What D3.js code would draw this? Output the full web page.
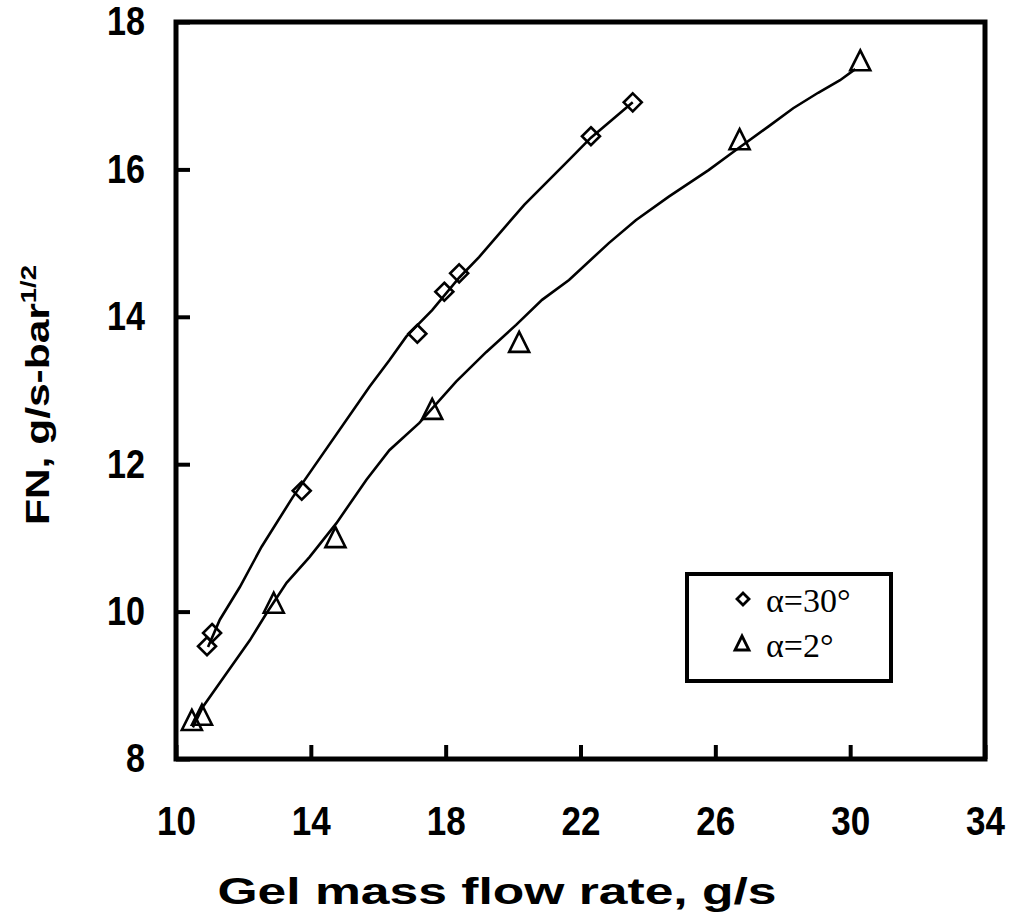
<!DOCTYPE html>
<html><head><meta charset="utf-8">
<script src="https://cdn.jsdelivr.net/npm/d3@7"></script>
<style>body{margin:0;background:#fff}</style>
</head><body>
<svg id="c" width="1012" height="920"></svg>
<script>
const xTicks = [10, 14, 18, 22, 26, 30, 34];
const yTicks = [8, 10, 12, 14, 16, 18];
const seriesNames = ["α=30°", "α=2°"];
const a30X = [10.92, 11.07, 13.73, 17.16, 17.96, 18.40, 22.31, 23.55];
const a30Y = [9.53, 9.71, 11.64, 13.77, 14.34, 14.59, 16.45, 16.91];
const a2X = [10.47, 10.77, 12.90, 14.73, 17.60, 20.18, 26.72, 30.30];
const a2Y = [8.53, 8.60, 10.12, 11.01, 12.75, 13.66, 16.41, 17.48];
const fit30X = [10.95, 11.30, 11.89, 12.54, 13.46, 15.74, 16.33, 16.83, 17.60, 18.40, 18.99, 20.33, 21.66, 22.31, 22.93, 23.55];
const fit30Y = [9.52, 9.89, 10.33, 10.88, 11.55, 13.05, 13.41, 13.73, 14.09, 14.53, 14.81, 15.52, 16.13, 16.43, 16.67, 16.91];
const fit2X = [10.50, 10.80, 11.51, 12.19, 12.69, 13.28, 13.96, 14.76, 15.65, 16.33, 17.22, 18.31, 19.20, 20.09, 20.86, 21.66, 22.84, 23.64, 24.62, 25.80, 26.48, 27.57, 28.31, 29.05, 29.70, 30.15];
const fit2Y = [8.43, 8.71, 9.17, 9.61, 9.98, 10.39, 10.74, 11.20, 11.79, 12.19, 12.56, 13.12, 13.52, 13.89, 14.23, 14.50, 15.00, 15.31, 15.63, 15.99, 16.22, 16.58, 16.83, 17.04, 17.21, 17.36];

const svg = d3.select("#c");
const L = 176, R = 985, T = 22, B = 759;
const x = d3.scaleLinear().domain([10, 34]).range([L, R]);
const y = d3.scaleLinear().domain([8, 18]).range([B, T]);
const sans = "'Liberation Sans', Arial, sans-serif";
const serif = "'Liberation Serif', 'Times New Roman', serif";
const fmt = d3.format("d");

// axes with inward ticks
const gx = svg.append("g").attr("transform", `translate(0,${B})`)
  .call(d3.axisBottom(x).tickValues(xTicks).tickSizeInner(-14).tickSizeOuter(0).tickPadding(48).tickFormat(fmt));
gx.select(".domain").remove();
gx.selectAll("line").attr("stroke", "#000").attr("stroke-width", 4);
gx.selectAll("text").attr("font-family", sans).attr("font-weight", "bold").attr("font-size", 40)
  .attr("textLength", d => 19.5 * fmt(d).length).attr("lengthAdjust", "spacingAndGlyphs").attr("fill", "#000");

const gy = svg.append("g").attr("transform", `translate(${L},0)`)
  .call(d3.axisLeft(y).tickValues(yTicks).tickSizeInner(-14).tickSizeOuter(0).tickPadding(31).tickFormat(fmt));
gy.select(".domain").remove();
gy.selectAll("line").attr("stroke", "#000").attr("stroke-width", 4);
gy.selectAll("text").attr("font-family", sans).attr("font-weight", "bold").attr("font-size", 40)
  .attr("textLength", d => 19 * fmt(d).length).attr("lengthAdjust", "spacingAndGlyphs").attr("fill", "#000");

// frame
svg.append("rect").attr("x", L).attr("y", T).attr("width", R - L).attr("height", B - T)
  .attr("fill", "none").attr("stroke", "#000").attr("stroke-width", 5);

// fit curves
const line = d3.line().x(d => x(d[0])).y(d => y(d[1])).curve(d3.curveLinear);
svg.append("path").datum(d3.zip(fit30X, fit30Y)).attr("d", line)
  .attr("fill", "none").attr("stroke", "#000").attr("stroke-width", 2.6);
svg.append("path").datum(d3.zip(fit2X, fit2Y)).attr("d", line)
  .attr("fill", "none").attr("stroke", "#000").attr("stroke-width", 2.6);

// markers
const diamond = "M0,-9L9,0L0,9L-9,0Z";
const tri = "M0,-10L10,10L-10,10Z";
svg.append("g").selectAll("path").data(d3.zip(a30X, a30Y)).join("path")
  .attr("d", diamond).attr("transform", d => `translate(${x(d[0])},${y(d[1])})`)
  .attr("fill", "none").attr("stroke", "#000").attr("stroke-width", 2.6);
svg.append("g").selectAll("path").data(d3.zip(a2X, a2Y)).join("path")
  .attr("d", tri).attr("transform", d => `translate(${x(d[0])},${y(d[1])})`)
  .attr("fill", "none").attr("stroke", "#000").attr("stroke-width", 2.6);

// legend
svg.append("rect").attr("x", 687).attr("y", 574).attr("width", 204).attr("height", 107)
  .attr("fill", "#fff").attr("stroke", "#000").attr("stroke-width", 4);
svg.append("path").attr("d", "M0,-6L6,0L0,6L-6,0Z").attr("transform", "translate(743,599)")
  .attr("fill", "none").attr("stroke", "#000").attr("stroke-width", 2.8);
svg.append("path").attr("d", "M0,-7L7,7L-7,7Z").attr("transform", "translate(742,643)")
  .attr("fill", "none").attr("stroke", "#000").attr("stroke-width", 2.8);
svg.append("text").attr("x", 766).attr("y", 612).attr("font-family", serif).attr("font-size", 34).text(seriesNames[0]);
svg.append("text").attr("x", 766).attr("y", 657).attr("font-family", serif).attr("font-size", 34).text(seriesNames[1]);

// titles
svg.append("text").attr("x", 497).attr("y", 904).attr("text-anchor", "middle")
  .attr("font-family", sans).attr("font-weight", "bold").attr("font-size", 37)
  .attr("textLength", 559).attr("lengthAdjust", "spacingAndGlyphs").text("Gel mass flow rate, g/s");
const yt = svg.append("text").attr("transform", "translate(49,395) rotate(-90)").attr("text-anchor", "middle")
  .attr("font-family", sans).attr("font-weight", "bold").attr("font-size", 34)
  .attr("textLength", 260).attr("lengthAdjust", "spacingAndGlyphs");
yt.append("tspan").text("FN, g/s-bar");
yt.append("tspan").attr("dy", -13).attr("font-size", 22).text("1/2");
</script>
</body></html>
